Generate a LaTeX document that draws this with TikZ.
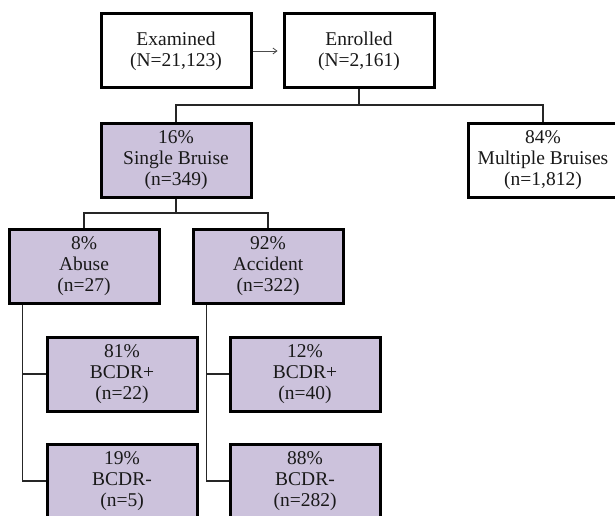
\documentclass[tikz,border=0pt]{standalone}
\usepackage{fontspec}
\setmainfont{Liberation Serif}
\usepackage{xcolor}
\usetikzlibrary{arrows.meta}
\definecolor{lavender}{RGB}{204,194,220}
\tikzset{
  stage/.style={draw=black, line width=3pt, fill=white, minimum width=150pt, minimum height=74pt, align=center, inner sep=0pt, text=black!90, font=\fontsize{19.5}{21}\selectfont},
  subset/.style={stage, fill=lavender},
  branch/.style={black!85, line width=1.5pt},
  flow/.style={-{Straight Barb[length=4pt,width=6pt]}, gray!60!black, line width=0.8pt, shorten >=5pt}
}

\begin{document}
\begin{tikzpicture}[x=1pt,y=-1pt]
  \clip (0,0) rectangle (615,516);
  \fill[white] (0,0) rectangle (615,516);

  \node[stage] (exam) at (176,51) {Examined\\(N=21,123)};
  \node[stage] (enrol) at (359,51) {Enrolled\\(N=2,161)};
  \node[subset] (single) at (176,160) {16\%\\Single Bruise\\(n=349)};
  \node[stage] (multi) at (543,160) {84\%\\Multiple Bruises\\(n=1,812)};
  \node[subset] (abuse) at (84,266) {8\%\\Abuse\\(n=27)};
  \node[subset] (accid) at (268,266) {92\%\\Accident\\(n=322)};
  \node[subset] (abpos) at (122,374) {81\%\\BCDR+\\(n=22)};
  \node[subset] (abneg) at (122,481) {19\%\\BCDR-\\(n=5)};
  \node[subset] (acpos) at (305,374) {12\%\\BCDR+\\(n=40)};
  \node[subset] (acneg) at (305,481) {88\%\\BCDR-\\(n=282)};

  \coordinate (split1) at (359,105);
  \coordinate (split2) at (176,213);

  \draw[flow] (exam.east) -- (enrol.west);
  \draw[branch] (enrol.south) -- (split1);
  \draw[branch] (single.north) |- (split1) -| (multi.north);
  \draw[branch] (single.south) -- (split2);
  \draw[branch] (abuse.north) |- (split2) -| (accid.north);

  \draw[branch] ([xshift=15pt]abuse.south west) |- (abpos.west);
  \draw[branch] ([xshift=15pt]abuse.south west) |- (abneg.west);
  \draw[branch] ([xshift=15pt]accid.south west) |- (acpos.west);
  \draw[branch] ([xshift=15pt]accid.south west) |- (acneg.west);
\end{tikzpicture}
\end{document}
